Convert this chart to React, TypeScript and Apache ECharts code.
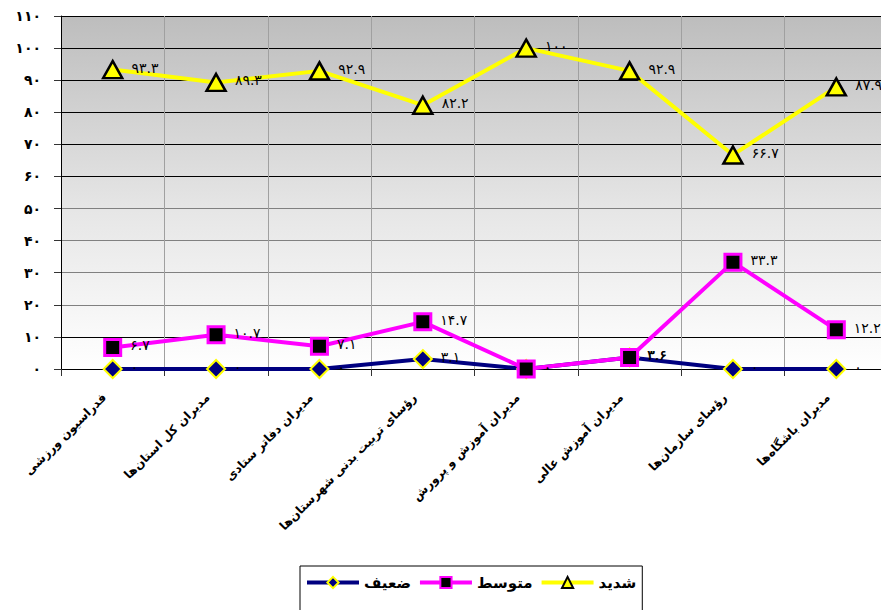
import React, { useEffect, useRef } from "react";
import * as echarts from "echarts";

const categories = [
  "فدراسیون ورزشی",
  "مدیران کل استان‌ها",
  "مدیران دفاتر ستادی",
  "رؤسای تربیت بدنی شهرستان‌ها",
  "مدیران آموزش و پرورش",
  "مدیران آموزش عالی",
  "رؤسای سازمان‌ها",
  "مدیران باشگاه‌ها",
];

const weakName = "ضعیف";
const mediumName = "متوسط";
const strongName = "شدید";

const weakValues = [0, 0, 0, 3.1, 0, 3.6, 0, 0];
const mediumValues = [6.7, 10.7, 7.1, 14.7, 0, 3.6, 33.3, 12.2];
const strongValues = [93.3, 89.3, 92.9, 82.2, 100, 92.9, 66.7, 87.9];

const yMin = 0;
const yMax = 110;
const yInterval = 10;

const faDigits = ["۰", "۱", "۲", "۳", "۴", "۵", "۶", "۷", "۸", "۹"];
const toFa = (v: number | string) =>
  String(v).replace(/[0-9]/g, (d) => faDigits[Number(d)]);

const FONT = "'DejaVu Sans', sans-serif";

export default function App() {
  const ref = useRef<HTMLDivElement>(null);
  useEffect(() => {
    if (!ref.current) return;
    const chart = echarts.init(ref.current, undefined, { renderer: "svg" });
    const dark = "#000000";
    const gray = "#808080";
    const splitColors = [dark, dark, gray, gray, gray, gray, dark, dark, dark, dark, dark, dark];
    const labelCfg = {
      show: true,
      position: "right" as const,
      distance: 8,
      offset: [0, -2],
      color: "#000",
      fontFamily: FONT,
      fontSize: 14,
      formatter: (p: any) => toFa(p.value),
    };
    chart.setOption({
      animation: false,
      backgroundColor: "#ffffff",
      grid: {
        left: 61,
        right: -7,
        top: 16,
        bottom: 241,
        show: true,
        borderWidth: 0,
        outerBoundsMode: "none",
        containLabel: false,
        backgroundColor: new echarts.graphic.LinearGradient(0, 0, 0, 1, [
          { offset: 0, color: "#bdbdbd" },
          { offset: 0.55, color: "#e6e6e6" },
          { offset: 1, color: "#ffffff" },
        ]),
      },
      legend: {
        left: 300,
        top: 566,
        orient: "horizontal",
        data: [weakName, mediumName, strongName],
        itemWidth: 52,
        itemHeight: 14,
        itemGap: 7,
        padding: [9, 6, 30, 5],
        borderColor: "#000",
        borderWidth: 1,
        backgroundColor: "#fff",
        lineStyle: { width: 4 },
        textStyle: {
          fontFamily: FONT,
          fontWeight: "bold",
          fontSize: 15,
          color: "#000",
        },
      },
      xAxis: {
        type: "category",
        data: categories,
        boundaryGap: true,
        axisLine: { show: true, lineStyle: { color: "#000", width: 1 } },
        axisTick: { show: true, length: 7, lineStyle: { color: "#333" } },
        splitLine: { show: true, lineStyle: { color: "#a0a0a0", width: 1 } },
        axisLabel: {
          rotate: 45,
          margin: 18,
          padding: [0, 12, 0, 0],
          interval: 0,
          color: "#000",
          fontFamily: FONT,
          fontWeight: "bold",
          fontSize: 12,
        },
      },
      yAxis: {
        type: "value",
        min: yMin,
        max: yMax,
        interval: yInterval,
        axisLine: { show: true, lineStyle: { color: "#000", width: 1 } },
        axisTick: { show: true, length: 7, lineStyle: { color: "#333" } },
        splitLine: { show: true, lineStyle: { color: splitColors, width: 1 } },
        axisLabel: {
          margin: 20,
          color: "#000",
          fontFamily: FONT,
          fontWeight: "bold",
          fontSize: 14,
          formatter: (v: number) => toFa(v),
        },
      },
      series: [
        {
          name: weakName,
          type: "line",
          data: weakValues,
          symbol: "diamond",
          symbolSize: [18, 18],
          lineStyle: { color: "#000080", width: 4 },
          itemStyle: { color: "#000080", borderColor: "#ffff00", borderWidth: 2 },
          label: labelCfg,
          z: 2,
        },
        {
          name: mediumName,
          type: "line",
          data: mediumValues,
          symbol: "rect",
          symbolSize: 16,
          lineStyle: { color: "#ff00ff", width: 4 },
          itemStyle: { color: "#000000", borderColor: "#ff00ff", borderWidth: 3 },
          label: labelCfg,
          z: 3,
        },
        {
          name: strongName,
          type: "line",
          data: strongValues,
          symbol: "triangle",
          symbolSize: [19, 17],
          lineStyle: { color: "#ffff00", width: 4 },
          itemStyle: { color: "#ffff00", borderColor: "#000000", borderWidth: 2.5 },
          label: labelCfg,
          z: 4,
        },
      ],
    });
    return () => chart.dispose();
  }, []);
  return (
    <div
      ref={ref}
      style={{ position: "absolute", left: 0, top: 0, width: 881, height: 610 }}
    />
  );
}
